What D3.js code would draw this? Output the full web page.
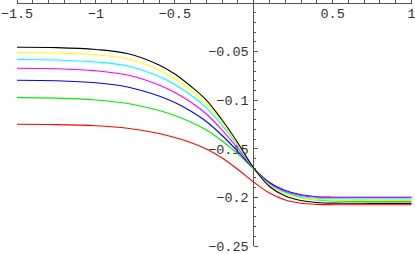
<!DOCTYPE html>
<meta charset="utf-8">
<style>
body { margin: 0; background: #fff; }
text {
  font: 13.5px "Liberation Mono", "DejaVu Sans Mono", monospace;
  fill: #333;
}
</style>
<body>
<div id="chart"></div>
</body>
<script src="https://cdn.jsdelivr.net/npm/d3@7"></script>
<script>

var xs = [-1.5, -1.25, -1.0, -0.8, -0.6, -0.5, -0.4, -0.3, -0.2, -0.1, 0, 0.1, 0.2, 0.3, 0.4, 0.5, 0.75, 1.0];

var red     = [-0.1248, -0.1251, -0.1263, -0.1288, -0.1343, -0.1384, -0.1435, -0.1502, -0.1595, -0.1713, -0.1842, -0.1955, -0.2027, -0.2061, -0.2072, -0.2075, -0.2076, -0.2076];
var green   = [-0.0974, -0.0979, -0.0998, -0.1034, -0.1106, -0.1157, -0.1224, -0.1307, -0.1420, -0.1553, -0.1708, -0.1847, -0.1944, -0.2001, -0.2027, -0.2037, -0.2042, -0.2042];
var blue    = [-0.0795, -0.0800, -0.0821, -0.0864, -0.0957, -0.1024, -0.1111, -0.1219, -0.1363, -0.1528, -0.1703, -0.1847, -0.1929, -0.1973, -0.1993, -0.1998, -0.1999, -0.1999];
var magenta = [-0.0672, -0.0677, -0.0698, -0.0741, -0.0844, -0.0921, -0.1019, -0.1142, -0.1307, -0.1497, -0.1703, -0.1857, -0.1939, -0.1981, -0.1998, -0.2003, -0.2004, -0.2004];
var cyan    = [-0.0581, -0.0586, -0.0607, -0.0648, -0.0756, -0.0838, -0.0947, -0.1080, -0.1260, -0.1471, -0.1703, -0.1867, -0.1950, -0.1991, -0.2009, -0.2014, -0.2016, -0.2016];
var yellow  = [-0.0509, -0.0514, -0.0533, -0.0574, -0.0689, -0.0777, -0.0895, -0.1034, -0.1229, -0.1456, -0.1703, -0.1878, -0.1965, -0.2006, -0.2022, -0.2027, -0.2029, -0.2029];
var black   = [-0.0456, -0.0459, -0.0478, -0.0520, -0.0638, -0.0730, -0.0854, -0.0998, -0.1204, -0.1440, -0.1698, -0.1888, -0.1986, -0.2032, -0.2052, -0.2059, -0.2061, -0.2061];

var series = [
  {color: "#ff0000", values: red},
  {color: "#00ee00", values: green},
  {color: "#0000ff", values: blue},
  {color: "#ff00ff", values: magenta},
  {color: "#00ffff", values: cyan},
  {color: "#ffff00", values: yellow},
  {color: "#000000", values: black}
];

var xTickLabels = [-1.5, -1, -0.5, 0.5, 1];
var yTickLabels = [-0.05, -0.1, -0.15, -0.2, -0.25];

var width = 415, height = 254;

var x = d3.scaleLinear().domain([-1.5, 1]).range([17, 411.5]);
var y = d3.scaleLinear().domain([0, -0.25]).range([3, 246]);

var svg = d3.select("#chart").append("svg")
    .attr("width", width)
    .attr("height", height);

function fmt(v) {
  return (v < 0 ? "\u2212" : "") + String(Math.abs(v));
}

// axes, Mathematica style: x axis along y = 0, y axis along x = 0
var axes = svg.append("g").attr("stroke", "#555").attr("stroke-width", 1).attr("shape-rendering", "crispEdges");

axes.append("line")
    .attr("x1", x(-1.5)).attr("x2", x(1))
    .attr("y1", y(0)).attr("y2", y(0));
axes.append("line")
    .attr("x1", x(0)).attr("x2", x(0))
    .attr("y1", y(0)).attr("y2", y(-0.25));

// x ticks every 0.1, pointing up
d3.range(-15, 11).forEach(function(i) {
  var v = i / 10, major = i % 5 === 0;
  axes.append("line")
      .attr("x1", x(v)).attr("x2", x(v))
      .attr("y1", y(0)).attr("y2", y(0) - (major ? 5 : 3));
});

// y ticks every 0.01, pointing right
d3.range(1, 26).forEach(function(i) {
  var v = -i / 100, major = i % 5 === 0;
  axes.append("line")
      .attr("x1", x(0)).attr("x2", x(0) + (major ? 4 : 2))
      .attr("y1", y(v)).attr("y2", y(v));
});

svg.append("g").selectAll("text")
    .data(xTickLabels)
    .enter().append("text")
    .attr("x", function(d) { return x(d); })
    .attr("y", 18)
    .style("text-anchor", "middle")
    .text(fmt);

svg.append("g").selectAll("text")
    .data(yTickLabels)
    .enter().append("text")
    .attr("x", x(0) - 5)
    .attr("y", function(d) { return y(d); })
    .attr("dy", ".35em")
    .style("text-anchor", "end")
    .text(fmt);

var line = d3.line()
    .x(function(d, i) { return x(xs[i]); })
    .y(function(d) { return y(d); })
    .curve(d3.curveCatmullRom.alpha(0.5));

svg.append("g").selectAll("path")
    .data(series)
    .enter().append("path")
    .attr("fill", "none")
    .attr("stroke", function(d) { return d.color; })
    .attr("stroke-width", 1.1)
    .attr("d", function(d) { return line(d.values); });

</script>
